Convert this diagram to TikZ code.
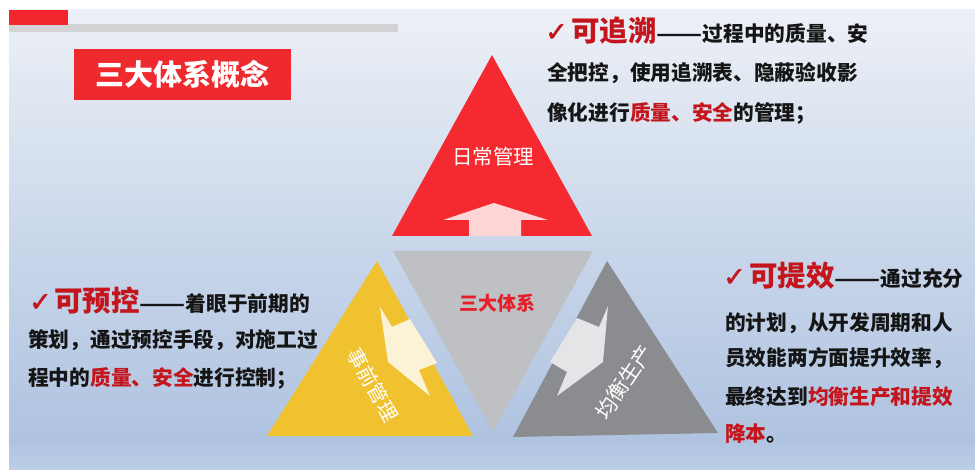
\documentclass[tikz,border=0pt]{standalone}
\usepackage{fontspec}
\usepackage{graphicx}
\setmainfont{Noto Sans CJK SC}
\newfontfamily\chkfont{DejaVu Sans}[FakeBold=1.6]
\definecolor{bgtop}{HTML}{EDF0F6}
\definecolor{bgmid}{HTML}{C8D6EA}
\definecolor{bglow}{HTML}{AFC3E0}
\definecolor{bgbot}{HTML}{BDCEE6}
\definecolor{tred}{HTML}{F42A30}
\definecolor{tpink}{HTML}{FDD5D5}
\definecolor{tcgrey}{HTML}{BEC0C4}
\definecolor{tyellow}{HTML}{F0C230}
\definecolor{tcream}{HTML}{FCF3D6}
\definecolor{tdgrey}{HTML}{8A8C8F}
\definecolor{tlgrey}{HTML}{E4E5E7}
\definecolor{dred}{HTML}{C3151B}
\definecolor{txt}{HTML}{151515}
\definecolor{titlered}{HTML}{EE2A2F}
\definecolor{barred}{HTML}{F2262C}
\definecolor{bargrey}{HTML}{D3D3D5}
\definecolor{cenred}{HTML}{E61E28}
\newcommand\redtxt[1]{\textcolor{dred}{#1}}
\newcommand\bigred[1]{{\color{dred}\fontsize{28.5}{28}\selectfont #1}}
\newcommand\longdash{\scalebox{1.3}[1]{——}}
\begin{document}
\begin{tikzpicture}[x=1pt,y=-1pt,
  body/.style={inner sep=0pt, anchor=base west, text=txt, font=\bfseries\fontsize{20.7}{24}\selectfont},
  chk/.style={inner sep=0pt, anchor=base west, text=dred, font=\chkfont\fontsize{27}{27}\selectfont},
  tlabel/.style={inner sep=0pt, text=white, font=\fontsize{20}{20}\selectfont}]
\useasboundingbox (0,0) rectangle (975,470);
\fill[white] (0,0) rectangle (975,470);
% background
\shade[top color=bgtop, bottom color=bgmid] (9,10) rectangle (975,251);
\shade[top color=bgmid, bottom color=bglow] (9,250) rectangle (975,441);
\shade[top color=bglow, bottom color=bgbot] (9,440) rectangle (975,470);
% top bars
\fill[bargrey] (9,24) rectangle (398,32);
\fill[barred] (9,10) rectangle (68,25);
% title
\node[fill=titlered, minimum width=217pt, minimum height=51pt, inner sep=0pt,
  text=white, font=\bfseries\fontsize{29}{29}\selectfont] (title) at (182.5,74.5) {三大体系概念};
% red triangle
\fill[tred] (392,236) -- (592,236) -- (492,55) -- cycle;
\fill[tpink] (494,203) -- (548,220) -- (521,220) -- (521,236) -- (469,236) -- (469,220) -- (443,220) -- cycle;
\node[tlabel, font=\fontsize{20.5}{20}\selectfont] (daily) at (493,157) {日常管理};
% centre triangle
\fill[tcgrey] (393,251) -- (593,251) -- (493,432) -- cycle;
\node[inner sep=0pt, text=cenred, font=\bfseries\fontsize{19}{19}\selectfont] (core) at (497,303) {三大体系};
% yellow triangle
\fill[tyellow] (267,436) -- (473,436) -- (377,261) -- cycle;
\fill[tcream] (380,307) -- (392,327) -- (410,319) -- (437,363) -- (419,370) -- (430,396) -- (388,362) -- cycle;
\node[tlabel, rotate=-61] (pre) at (373,385) {事前管理};
% dark grey triangle
\fill[tdgrey] (513,437) -- (718,433) -- (607,261) -- cycle;
\fill[tlgrey] (608,306) -- (603,362) -- (557,396) -- (567,372) -- (550,362) -- (577,318) -- (599,327) -- cycle;
\node[tlabel, font=\fontsize{21}{21}\selectfont, rotate=56] (bal) at (624,382) {均衡生产};
% top-right text
\node[chk] (c1) at (545,41) {✓};
\node[body] (a1) at (571,42) {\bigred{可追溯}\longdash 过程中的质量、安};
\node[body] (a2) at (547,81) {全把控，使用追溯表、隐蔽验收影};
\node[body] (a3) at (547,121) {像化进行\redtxt{质量、安全}的管理；};
% left text
\node[chk] (c2) at (29,311) {✓};
\node[body] (b1) at (54,312) {\bigred{可预控}\longdash 着眼于前期的};
\node[body] (b2) at (28,348) {策划，通过预控手段，对施工过};
\node[body] (b3) at (28,385) {程中的\redtxt{质量、安全}进行控制；};
% right text
\node[chk] (c3) at (723,286) {✓};
\node[body] (d1) at (749,287) {\bigred{可提效}\longdash 通过充分};
\node[body] (d2) at (725,331) {的计划，从开发周期和人};
\node[body] (d3) at (725,366) {员效能两方面提升效率，};
\node[body] (d4) at (725,405) {最终达到\redtxt{均衡生产和提效}};
\node[body] (d5) at (725,441) {\redtxt{降本}。};
\end{tikzpicture}
\end{document}
